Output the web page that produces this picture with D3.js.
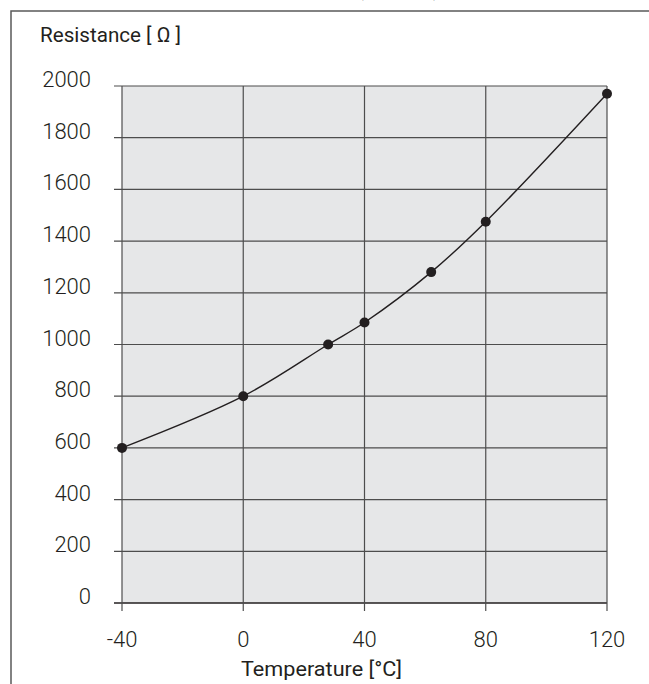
<!DOCTYPE html>
<html>
<head>
  <meta charset="utf-8">
  <script src="https://d3js.org/d3.v7.min.js"></script>
  <style>
    body { margin: 0; background: #fff; }
    text { font-family: Roboto, "Liberation Sans", sans-serif; fill: #231f20; }
  </style>
</head>
<body>
<script>
// values
var temps = [-40, 0, 28, 40, 62, 80, 120];
var resist = [600, 800, 1000, 1085, 1280, 1475, 1970];
var xTicks = [-40, 0, 40, 80, 120];
var yTicks = [0, 200, 400, 600, 800, 1000, 1200, 1400, 1600, 1800, 2000];

var W = 649, H = 684;
var plotL = 122, plotR = 607, plotT = 86, plotB = 603;

var svg = d3.select("body").append("svg")
    .attr("width", W)
    .attr("height", H);

// title, cut off by the top edge
svg.append("text")
    .attr("x", 14).attr("y", -4)
    .style("font-size", "21px").style("font-weight", "bold")
    .text("Figure 5  Temperature characteristic (KTY 84)");

// frame
svg.append("path")
    .attr("d", "M11," + (H + 2) + "V11H" + (W + 2))
    .attr("fill", "none")
    .attr("stroke", "#5a5a5a")
    .attr("stroke-width", 1.5);

var x = d3.scaleLinear().domain([-40, 120]).range([plotL, plotR]);
var y = d3.scaleLinear().domain([0, 2000]).range([plotB, plotT]);

// plot background
svg.append("rect")
    .attr("x", x(-40)).attr("y", y(2000))
    .attr("width", x(120) - x(-40)).attr("height", y(0) - y(2000))
    .attr("fill", "#e6e7e8");

// grid + tick stubs
svg.append("g").selectAll("line")
    .data(yTicks)
    .enter().append("line")
    .attr("x1", x(-40) - 8).attr("x2", x(120))
    .attr("y1", function(d) { return y(d); })
    .attr("y2", function(d) { return y(d); })
    .attr("stroke", function(d) { return d === 0 ? "#231f20" : "#4d4d4d"; })
    .attr("stroke-width", function(d) { return d === 0 ? 1.6 : 1.2; });

svg.append("g").selectAll("line")
    .data(xTicks)
    .enter().append("line")
    .attr("x1", function(d) { return x(d); })
    .attr("x2", function(d) { return x(d); })
    .attr("y1", y(2000)).attr("y2", y(0) + 8)
    .attr("stroke", "#4d4d4d")
    .attr("stroke-width", 1.2);

// tick labels
svg.append("g").selectAll("text")
    .data(yTicks)
    .enter().append("text")
    .attr("x", 91)
    .attr("y", function(d) { return y(d) + 1; })
    .attr("text-anchor", "end")
    .style("font-size", "22px").style("font-weight", 300)
    .text(function(d) { return d; });

svg.append("g").selectAll("text")
    .data(xTicks)
    .enter().append("text")
    .attr("x", function(d) { return x(d); })
    .attr("y", 647)
    .attr("text-anchor", "middle")
    .style("font-size", "22px").style("font-weight", 300)
    .text(function(d) { return d; });

// axis titles (condensed)
svg.append("text")
    .attr("x", 40).attr("y", 42)
    .attr("textLength", 141).attr("lengthAdjust", "spacingAndGlyphs")
    .style("font-size", "20px")
    .text("Resistance [ Ω ]");

svg.append("text")
    .attr("x", 241).attr("y", 676)
    .attr("textLength", 161).attr("lengthAdjust", "spacingAndGlyphs")
    .style("font-size", "20px")
    .text("Temperature [°C]");

// curve and points
var pts = temps.map(function(t, i) { return [t, resist[i]]; });

svg.append("path")
    .datum(pts)
    .attr("fill", "none")
    .attr("stroke", "#231f20")
    .attr("stroke-width", 1.4)
    .attr("d", d3.line()
        .x(function(d) { return x(d[0]); })
        .y(function(d) { return y(d[1]); })
        .curve(d3.curveCatmullRom.alpha(0.5)));

svg.append("g").selectAll("circle")
    .data(pts)
    .enter().append("circle")
    .attr("cx", function(d) { return x(d[0]); })
    .attr("cy", function(d) { return y(d[1]); })
    .attr("r", 5)
    .attr("fill", "#231f20");
</script>
</body>
</html>
